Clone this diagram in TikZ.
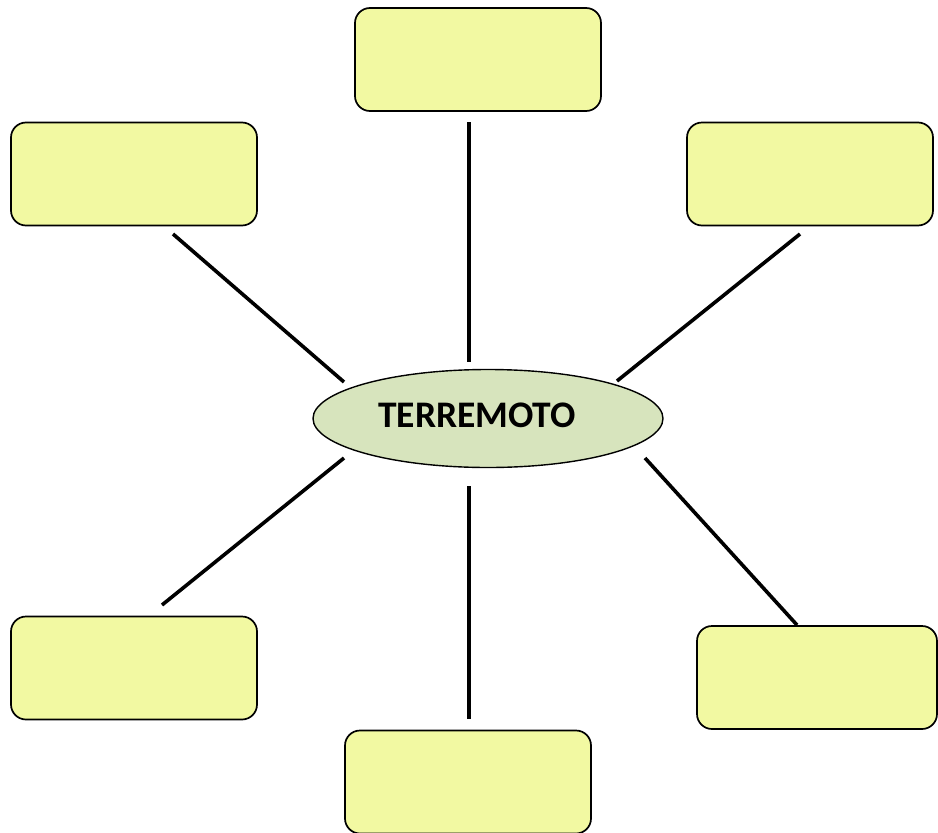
\documentclass[tikz,border=0pt]{standalone}
\usepackage{fontspec}
\setmainfont{Carlito}
\usetikzlibrary{shapes.geometric}
\definecolor{boxfill}{HTML}{F2F9A2}
\definecolor{ellfill}{HTML}{D7E4BD}
\tikzset{
  leafbox/.style={draw=black, line width=1.7pt, fill=boxfill, rounded corners=15pt,
    minimum width=246pt, minimum height=103pt, inner sep=0pt},
  centerell/.style={ellipse, draw=black, line width=1.4pt, fill=ellfill,
    minimum width=350pt, minimum height=98pt, inner sep=0pt},
  spoke/.style={line width=3.6pt, line cap=butt}
}
\begin{document}
\begin{tikzpicture}[x=1pt,y=-1pt]
\useasboundingbox (0,0) rectangle (938,833);
\node[leafbox] (top) at (478,59.5) {};
\node[leafbox] (tl) at (134,174) {};
\node[leafbox] (tr) at (810,174) {};
\node[leafbox] (bl) at (134,668) {};
\node[leafbox] (bot) at (468,782) {};
\node[leafbox, minimum width=240pt] (br) at (817,677.5) {};
\node[centerell] (c) at (488,418.5) {};
\node[font=\fontsize{37.5}{40}\selectfont\bfseries, inner sep=0pt] (ct) at (477,415) {TERREMOTO};
% spoke endpoints
\coordinate (tA) at (469,122); \coordinate (tB) at (469,362);
\coordinate (tlA) at (173,234); \coordinate (tlB) at (344,382);
\coordinate (trA) at (800,234); \coordinate (trB) at (617,381);
\coordinate (blA) at (344,458); \coordinate (blB) at (162,605);
\coordinate (bA) at (469,486); \coordinate (bB) at (469,719);
\coordinate (brA) at (645,458); \coordinate (brB) at (797,625);
\draw[spoke] (tA) -- (tB);
\draw[spoke] (tlA) -- (tlB);
\draw[spoke] (trA) -- (trB);
\draw[spoke] (blA) -- (blB);
\draw[spoke] (bA) -- (bB);
\draw[spoke] (brA) -- (brB);
\end{tikzpicture}
\end{document}
